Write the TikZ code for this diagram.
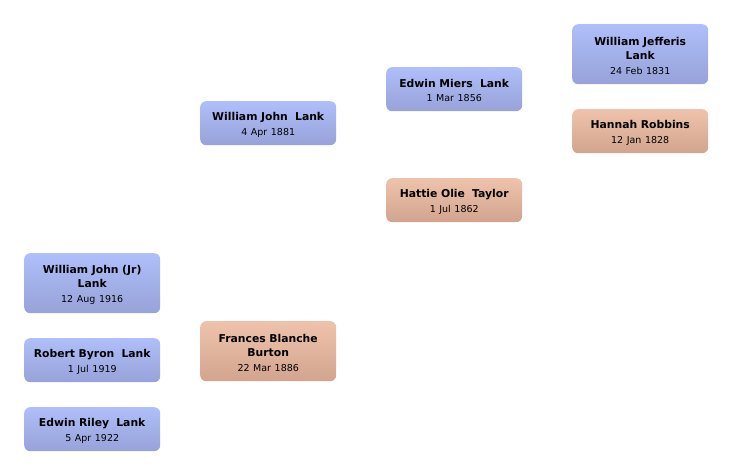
\documentclass[tikz,border=0pt]{standalone}
\usepackage{fontspec}
\setmainfont{DejaVu Sans}
\definecolor{bluetop}{HTML}{AFBFFA}
\definecolor{bluebot}{HTML}{97A2D8}
\definecolor{orgtop}{HTML}{EFC3AB}
\definecolor{orgbot}{HTML}{D2A48F}
\newcommand{\pname}[1]{{\rule{0pt}{11.2pt}\bfseries #1}}
\newcommand{\pdate}[1]{{\fontsize{9.5}{14.5}\selectfont #1}}
\tikzset{
  person/.style={rounded corners=6pt, minimum width=136pt, inner sep=0pt,
    text width=134pt, align=center, anchor=north west, draw=none,
    font=\fontsize{10.8}{14.5}\selectfont},
  male/.style={person, top color=bluetop, bottom color=bluebot},
  female/.style={person, top color=orgtop, bottom color=orgbot},
  short/.style={minimum height=44pt},
  tall/.style={minimum height=60pt},
}
\begin{document}
\begin{tikzpicture}[x=1pt,y=-1pt]
\useasboundingbox (0,0) rectangle (732,476);
\node[male,tall] (wjl) at (572,24) {\pname{William Jefferis\\Lank}\\\pdate{24 Feb 1831}};
\node[female,short] (hr) at (572,109) {\pname{Hannah Robbins}\\\pdate{12 Jan 1828}};
\node[male,short] (eml) at (386,67) {\pname{Edwin Miers\ \ Lank}\\\pdate{1 Mar 1856}};
\node[female,short] (hot) at (386,178) {\pname{Hattie Olie\ \ Taylor}\\\pdate{1 Jul 1862}};
\node[male,short] (wj) at (200,101) {\pname{William John\ \ Lank}\\\pdate{4 Apr 1881}};
\node[female,tall] (fbb) at (200,321) {\pname{Frances Blanche\\Burton}\\\pdate{22 Mar 1886}};
\node[male,tall] (wjj) at (24,253) {\pname{William John (Jr)\\Lank}\\\pdate{12 Aug 1916}};
\node[male,short] (rbl) at (24,338) {\pname{Robert Byron\ \ Lank}\\\pdate{1 Jul 1919}};
\node[male,short] (erl) at (24,407) {\pname{Edwin Riley\ \ Lank}\\\pdate{5 Apr 1922}};
\end{tikzpicture}
\end{document}
